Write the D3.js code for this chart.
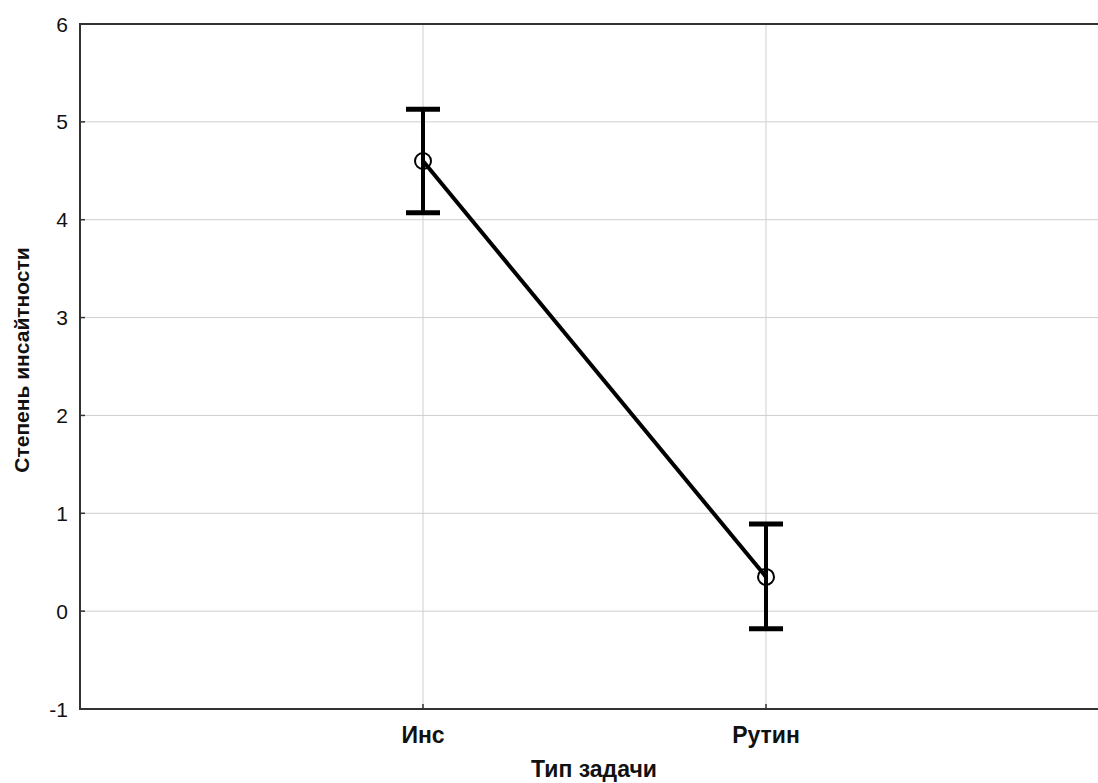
<!DOCTYPE html>
<html>
<head>
<meta charset="utf-8">
<script src="https://cdn.jsdelivr.net/npm/d3@7"></script>
<style>
body { margin: 0; background: #fff; }
svg { display: block; font-family: "Liberation Sans", Arial, sans-serif; }
</style>
</head>
<body>
<div id="chart"></div>
<script>
var categories = ['Инс', 'Рутин'];
var means = [4.6, 0.35];
var upper = [5.13, 0.89];
var lower = [4.07, -0.18];
var yTicks = [-1, 0, 1, 2, 3, 4, 5, 6];

var width = 1098, height = 783;
var plotLeft = 80, plotRight = 1109, plotTop = 24, plotBottom = 709;

var svg = d3.select('#chart').append('svg').attr('width', width).attr('height', height);

var xScale = d3.scaleLinear().domain([0, 3]).range([plotLeft, plotRight]);
var yScale = d3.scaleLinear().domain([-1, 6]).range([plotBottom, plotTop]);

// grid
svg.append('g').selectAll('line').data(yTicks.slice(1, -1)).enter().append('line')
	.attr('x1', plotLeft).attr('x2', plotRight)
	.attr('y1', function(d) { return yScale(d); }).attr('y2', function(d) { return yScale(d); })
	.attr('stroke', '#cfcfcf').attr('stroke-width', 1);

svg.append('g').selectAll('line').data(categories).enter().append('line')
	.attr('x1', function(d, i) { return xScale(i + 1); }).attr('x2', function(d, i) { return xScale(i + 1); })
	.attr('y1', plotTop).attr('y2', plotBottom)
	.attr('stroke', '#cfcfcf').attr('stroke-width', 1);

// frame
svg.append('rect')
	.attr('x', plotLeft).attr('y', plotTop).attr('width', plotRight - plotLeft).attr('height', plotBottom - plotTop)
	.attr('fill', 'none').attr('stroke', '#333').attr('stroke-width', 2);

// y axis ticks + labels
var yAxis = svg.append('g');
yAxis.selectAll('line').data(yTicks).enter().append('line')
	.attr('x1', plotLeft).attr('x2', plotLeft + 5)
	.attr('y1', function(d) { return yScale(d); }).attr('y2', function(d) { return yScale(d); })
	.attr('stroke', '#333').attr('stroke-width', 1.5);
yAxis.selectAll('text').data(yTicks).enter().append('text')
	.attr('x', 68).attr('y', function(d) { return yScale(d); })
	.attr('dy', '0.36em').attr('text-anchor', 'end')
	.attr('font-size', 21).attr('fill', '#111')
	.text(function(d) { return d; });

// x axis ticks + labels
var xAxis = svg.append('g');
xAxis.selectAll('line').data(categories).enter().append('line')
	.attr('x1', function(d, i) { return xScale(i + 1); }).attr('x2', function(d, i) { return xScale(i + 1); })
	.attr('y1', plotBottom).attr('y2', plotBottom - 5)
	.attr('stroke', '#333').attr('stroke-width', 1.5);
xAxis.selectAll('text').data(categories).enter().append('text')
	.attr('x', function(d, i) { return xScale(i + 1); }).attr('y', 743)
	.attr('text-anchor', 'middle').attr('font-size', 23).attr('font-weight', 'bold').attr('fill', '#111')
	.text(function(d) { return d; });

svg.append('text')
	.attr('x', 594).attr('y', 777)
	.attr('text-anchor', 'middle').attr('font-size', 23).attr('font-weight', 'bold').attr('fill', '#111')
	.text('Тип задачи');

svg.append('text')
	.attr('transform', 'translate(29,' + 360 + ') rotate(-90)')
	.attr('text-anchor', 'middle').attr('font-size', 21).attr('font-weight', 'bold').attr('fill', '#111')
	.text('Степень инсайтности');

// line
var line = d3.line()
	.x(function(d, i) { return xScale(i + 1); })
	.y(function(d) { return yScale(d); });

svg.append('path')
	.attr('d', line(means))
	.attr('fill', 'none').attr('stroke', '#000').attr('stroke-width', 4);

// error bars
var eb = svg.append('g').selectAll('g').data(means).enter().append('g');
eb.append('line')
	.attr('x1', function(d, i) { return xScale(i + 1); }).attr('x2', function(d, i) { return xScale(i + 1); })
	.attr('y1', function(d, i) { return yScale(upper[i]); }).attr('y2', function(d, i) { return yScale(lower[i]); })
	.attr('stroke', '#000').attr('stroke-width', 4);
eb.append('line')
	.attr('x1', function(d, i) { return xScale(i + 1) - 17; }).attr('x2', function(d, i) { return xScale(i + 1) + 17; })
	.attr('y1', function(d, i) { return yScale(upper[i]); }).attr('y2', function(d, i) { return yScale(upper[i]); })
	.attr('stroke', '#000').attr('stroke-width', 5);
eb.append('line')
	.attr('x1', function(d, i) { return xScale(i + 1) - 17; }).attr('x2', function(d, i) { return xScale(i + 1) + 17; })
	.attr('y1', function(d, i) { return yScale(lower[i]); }).attr('y2', function(d, i) { return yScale(lower[i]); })
	.attr('stroke', '#000').attr('stroke-width', 5);
eb.append('circle')
	.attr('cx', function(d, i) { return xScale(i + 1); })
	.attr('cy', function(d) { return yScale(d); })
	.attr('r', 8)
	.attr('fill', 'none').attr('stroke', '#000').attr('stroke-width', 2);
</script>
</body>
</html>
